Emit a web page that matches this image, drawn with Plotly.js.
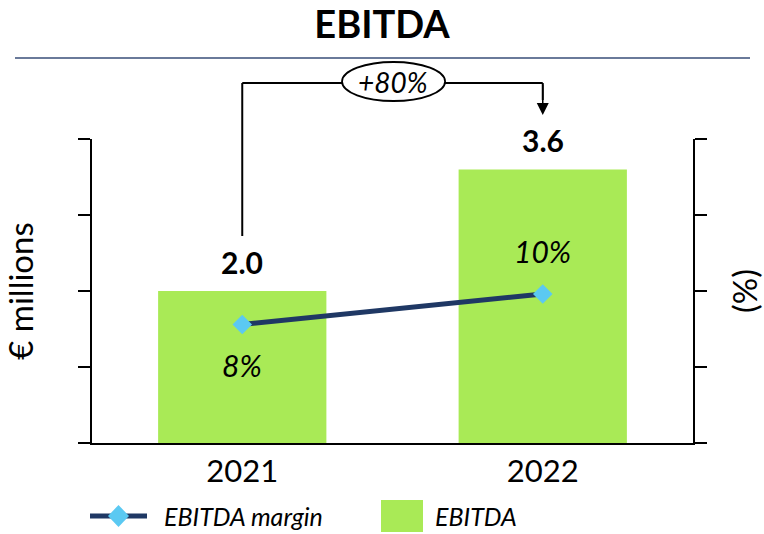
<!DOCTYPE html>
<html>
<head>
<meta charset="utf-8">
<script src="https://cdn.plot.ly/plotly-3.0.1.min.js"></script>
<style>html,body{margin:0;padding:0;background:#fff;}#chart{width:764px;height:534px;}</style>
</head>
<body>
<div id="chart"></div>
<script>
// ---- data ----
const years = ["2021", "2022"];
const ebitda = [2.0, 3.6];            // € millions
const ebitdaMargin = [7.8, 9.8];      // %
const marginLabels = ["8%", "10%"];
const growthLabel = "+80%";
const seriesNames = ["EBITDA margin", "EBITDA"];
const leftTitle = "€ millions";
const rightTitle = "(%)";

// ---- styling ----
const FONT = "Lato, 'Open Sans', sans-serif";
const GREEN = "#A9EA56";
const NAVY = "#1F3864";
const DIAMOND = "#5BC9F2";

// category positions on a linear axis
const xi = years.map((_, i) => i);

// plot area in pixels (for decorative elements placed in paper coords)
const L = 92, R = 71, T = 139, B = 91, W = 764, H = 534;
const PW = W - L - R, PH = H - T - B;
const px = x => (x - L) / PW;
const py = y => (H - B - y) / PH;

const traces = [
  {
    type: "bar", x: xi, y: ebitda, name: seriesNames[1],
    marker: {color: GREEN}, yaxis: "y", showlegend: false, hoverinfo: "skip"
  },
  {
    type: "scatter", mode: "lines+markers", x: xi, y: ebitdaMargin, name: seriesNames[0],
    line: {color: NAVY, width: 5},
    marker: {symbol: "diamond", size: 15, color: DIAMOND},
    yaxis: "y2", showlegend: false, hoverinfo: "skip", cliponaxis: false
  }
];

const annotations = [];
// bar value labels
xi.forEach((x, i) => annotations.push({
  x: x, y: ebitda[i], xref: "x", yref: "y", text: ebitda[i].toFixed(1),
  showarrow: false, yanchor: "bottom", yshift: 9,
  font: {family: FONT, size: 30, color: "#000", weight: "bold"}
}));
// margin labels
const marginShift = [-41, 43];
xi.forEach((x, i) => annotations.push({
  x: x, y: ebitdaMargin[i], xref: "x", yref: "y2", text: "<i>" + marginLabels[i] + "</i>",
  showarrow: false, yanchor: "middle", yshift: marginShift[i],
  font: {family: FONT, size: 30, color: "#000"}
}));
// growth ellipse label
annotations.push({
  x: (xi[0] + xi[1]) / 2, y: py(82), xref: "x", yref: "paper", text: "<i>" + growthLabel + "</i>",
  showarrow: false, xanchor: "center", yanchor: "middle", font: {family: FONT, size: 28, color: "#000"}
});
// arrow head
annotations.push({
  x: xi[1], y: py(115), xref: "x", yref: "paper", text: "", showarrow: true,
  ax: 0, ay: -32, arrowhead: 2, arrowsize: 1.6, arrowwidth: 1.5, arrowcolor: "#000"
});
// legend texts
annotations.push({
  x: px(162), y: py(516), xref: "paper", yref: "paper", text: "<i>" + seriesNames[0] + "</i>",
  showarrow: false, xanchor: "left", yanchor: "middle", font: {family: FONT, size: 25, color: "#000"}
});
annotations.push({
  x: px(433), y: py(516), xref: "paper", yref: "paper", text: "<i>" + seriesNames[1] + "</i>",
  showarrow: false, xanchor: "left", yanchor: "middle", font: {family: FONT, size: 25, color: "#000"}
});

const shapes = [
  // rule under title
  {type: "line", xref: "paper", yref: "paper", x0: px(15), x1: px(750), y0: py(58), y1: py(58),
   line: {color: "#6A7A9A", width: 2}},
  // growth connector
  {type: "line", xref: "x", yref: "paper", x0: xi[0], x1: xi[0], y0: py(236), y1: py(83), line: {color: "#000", width: 2}},
  {type: "line", xref: "x", yref: "paper", x0: xi[0], x1: xi[1], y0: py(83), y1: py(83), line: {color: "#000", width: 2}},
  {type: "line", xref: "x", yref: "paper", x0: xi[1], x1: xi[1], y0: py(83), y1: py(100), line: {color: "#000", width: 2}},
  {type: "circle", xref: "x", yref: "paper", x0: 0.332, x1: 0.675, y0: py(101), y1: py(62),
   fillcolor: "#fff", line: {color: "#000", width: 1.8}},
  // legend: line + diamond
  {type: "line", xref: "paper", yref: "paper", x0: px(90), x1: px(147), y0: py(516), y1: py(516),
   line: {color: NAVY, width: 5}},
  {type: "path", xref: "paper", yref: "paper",
   path: `M ${px(108)},${py(516)} L ${px(118.5)},${py(505)} L ${px(129)},${py(516)} L ${px(118.5)},${py(527)} Z`,
   fillcolor: DIAMOND, line: {width: 0}},
  // legend: green square
  {type: "rect", xref: "paper", yref: "paper", x0: px(381), x1: px(423), y0: py(532), y1: py(500),
   fillcolor: GREEN, line: {width: 0}}
];

const axisCommon = {
  showline: true, linecolor: "#000", linewidth: 2, ticks: "outside", ticklen: 12,
  tickwidth: 2, tickcolor: "#000", showgrid: false, zeroline: false, showticklabels: false,
  fixedrange: true
};

const layout = {
  width: W, height: H,
  margin: {l: L, r: R, t: T, b: B, pad: 0},
  paper_bgcolor: "#fff", plot_bgcolor: "#fff",
  font: {family: FONT, color: "#000"},
  title: {text: "EBITDA", x: 0.5, xanchor: "center", y: 1 - 25 / H, yanchor: "middle",
          font: {family: FONT, size: 38, weight: "bold", color: "#000"}},
  bargap: 0.44,
  showlegend: false,
  xaxis: {type: "linear", range: [-0.5, 1.5], tickmode: "array", tickvals: xi, ticktext: years,
          showline: true, linecolor: "#000", linewidth: 2, ticks: "",
          tickfont: {family: FONT, size: 31, color: "#000"}, showgrid: false, zeroline: false,
          fixedrange: true},
  yaxis: Object.assign({}, axisCommon, {range: [0, 4], dtick: 1, tick0: 0,
          title: {text: leftTitle, font: {family: FONT, size: 33, color: "#000"}}}),
  yaxis2: Object.assign({}, axisCommon, {range: [0, 20], dtick: 5, tick0: 0, overlaying: "y", side: "right",
          title: {text: rightTitle, font: {family: FONT, size: 33, color: "#000"}}}),
  annotations: annotations,
  shapes: shapes
};

Plotly.newPlot("chart", traces, layout, {displayModeBar: false, staticPlot: true});
</script>
</body>
</html>
